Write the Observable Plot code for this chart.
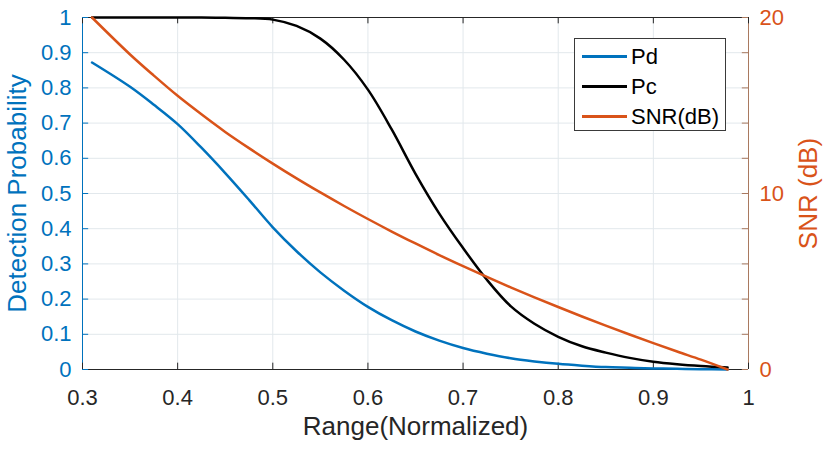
<!DOCTYPE html>
<html><head><meta charset="utf-8">
<script src="https://cdn.jsdelivr.net/npm/d3@7"></script>
<script src="https://cdn.jsdelivr.net/npm/@observablehq/plot@0.6"></script>
<style>
body{margin:0;background:#fff;font-family:"Liberation Sans",Arial,sans-serif}
#wrap{position:relative;width:827px;height:449px}
#legend{position:absolute;left:574px;top:38px;width:152px;height:93px;border:1px solid #3a3a3a;background:#fff;box-sizing:border-box}
.row{position:absolute;left:0;height:30px}
.sw{position:absolute;left:7px;width:45px;height:3px}
.lab{position:absolute;left:56px;font-size:22px;color:#000;white-space:nowrap;line-height:30px}
</style></head><body><div id="wrap"></div>
<script>
const range = [0.31, 0.35, 0.375, 0.4, 0.425, 0.45, 0.475, 0.5, 0.525, 0.55, 0.575, 0.6, 0.625, 0.65, 0.675, 0.7, 0.725, 0.75, 0.775, 0.8, 0.825, 0.85, 0.875, 0.9, 0.925, 0.95, 0.978];
const pd    = [0.872, 0.803, 0.752, 0.697, 0.63, 0.558, 0.482, 0.404, 0.336, 0.276, 0.224, 0.178, 0.14, 0.108, 0.082, 0.061, 0.045, 0.032, 0.023, 0.016, 0.011, 0.007, 0.005, 0.003, 0.002, 0.001, 0.0];
const pc    = [1.0, 1.0, 1.0, 1.0, 1.0, 0.999, 0.998, 0.994, 0.976, 0.94, 0.88, 0.795, 0.682, 0.556, 0.443, 0.345, 0.255, 0.18, 0.13, 0.093, 0.066, 0.048, 0.033, 0.022, 0.015, 0.01, 0.006];
const snrDb = [20, 17.9, 16.7, 15.55, 14.5, 13.5, 12.58, 11.7, 10.86, 10.06, 9.29, 8.55, 7.84, 7.16, 6.5, 5.87, 5.26, 4.67, 4.1, 3.55, 3.01, 2.49, 1.99, 1.5, 1.02, 0.56, 0.0];
const xTicks = [0.3, 0.4, 0.5, 0.6, 0.7, 0.8, 0.9, 1];
const yTicks = [0, 0.1, 0.2, 0.3, 0.4, 0.5, 0.6, 0.7, 0.8, 0.9, 1];
const snrTicks = [0, 10, 20];
const snrMinorTicks = [0, 2, 4, 6, 8, 10, 12, 14, 16, 18, 20];
const snrMax = 20;
const seriesNames = ["Pd", "Pc", "SNR(dB)"];
const colors = ["#0072BD", "#000000", "#D95319"];

const toLeft = d => d / snrMax;
const pdData = range.map((x, i) => ({x, y: pd[i]}));
const pcData = range.map((x, i) => ({x, y: pc[i]}));
const snrData = range.map((x, i) => ({x, y: toLeft(snrDb[i])}));

const grid = "#e2e8ec";
const dark = "#262626";
const tx = 0.0065, ty = 0.018;

const chart = Plot.plot({
  width: 827, height: 449,
  marginLeft: 82, marginRight: 79, marginTop: 17, marginBottom: 80,
  style: {fontFamily: '"Liberation Sans", Arial, sans-serif', background: "#fff", overflow: "visible"},
  x: {domain: [0.3, 1]},
  y: {domain: [0, 1]},
  marks: [
    Plot.ruleX(xTicks.slice(1, -1), {stroke: grid, strokeWidth: 1}),
    Plot.ruleY(yTicks.slice(1, -1), {stroke: grid, strokeWidth: 1}),
    Plot.ruleY([0, 1], {stroke: dark, strokeWidth: 1}),
    Plot.ruleX([0.3], {stroke: "#0072BD", strokeWidth: 1}),
    Plot.ruleX([1], {stroke: "#a9795f", strokeWidth: 1}),
    Plot.ruleX(xTicks, {x: d => d, y1: 0, y2: ty, stroke: dark}),
    Plot.ruleX(xTicks, {x: d => d, y1: 1 - ty, y2: 1, stroke: dark}),
    Plot.ruleY(yTicks, {y: d => d, x1: 0.3, x2: 0.3 + tx, stroke: "#0072BD"}),
    Plot.ruleY(snrMinorTicks, {y: d => toLeft(d), x1: 1 - tx, x2: 1, stroke: "#a9795f"}),
    Plot.line(pdData, {x: "x", y: "y", stroke: colors[0], strokeWidth: 2.5, curve: "catmull-rom"}),
    Plot.line(pcData, {x: "x", y: "y", stroke: colors[1], strokeWidth: 2.5, curve: "catmull-rom"}),
    Plot.line(snrData, {x: "x", y: "y", stroke: colors[2], strokeWidth: 2.5, curve: "catmull-rom"}),
    Plot.axisX({ticks: xTicks, tickSize: 0, tickPadding: 20, fontSize: 22, color: dark, label: null, tickFormat: d => String(d)}),
    Plot.axisY({ticks: yTicks, tickSize: 0, tickPadding: 11, fontSize: 22, color: "#0072BD", label: null, tickFormat: d => String(d)}),
    Plot.axisY({anchor: "right", ticks: snrTicks.map(toLeft), tickSize: 0, tickPadding: 11, fontSize: 22, color: "#D95319", label: null, tickFormat: d => String(Math.round(d * snrMax))}),
    Plot.text(["Range(Normalized)"], {frameAnchor: "bottom", dy: 65, fontSize: 26, fill: dark}),
    Plot.text(["Detection Probability"], {frameAnchor: "left", textAnchor: "middle", rotate: -90, dx: -65, fontSize: 26, fill: "#0072BD"}),
    Plot.text(["SNR (dB)"], {frameAnchor: "right", textAnchor: "middle", rotate: -90, dx: 60, fontSize: 26, fill: "#D95319"})
  ]
});
const wrap = document.getElementById("wrap");
wrap.appendChild(chart);

const legend = document.createElement("div");
legend.id = "legend";
seriesNames.forEach((name, i) => {
  const row = document.createElement("div");
  row.className = "row";
  row.style.top = (3 + i * 30) + "px";
  row.style.width = "100%";
  const sw = document.createElement("div");
  sw.className = "sw";
  sw.style.background = colors[i];
  sw.style.top = "13px";
  const lab = document.createElement("div");
  lab.className = "lab";
  lab.textContent = name;
  lab.style.top = "0px";
  row.appendChild(sw); row.appendChild(lab);
  legend.appendChild(row);
});
wrap.appendChild(legend);
</script>
</body></html>
